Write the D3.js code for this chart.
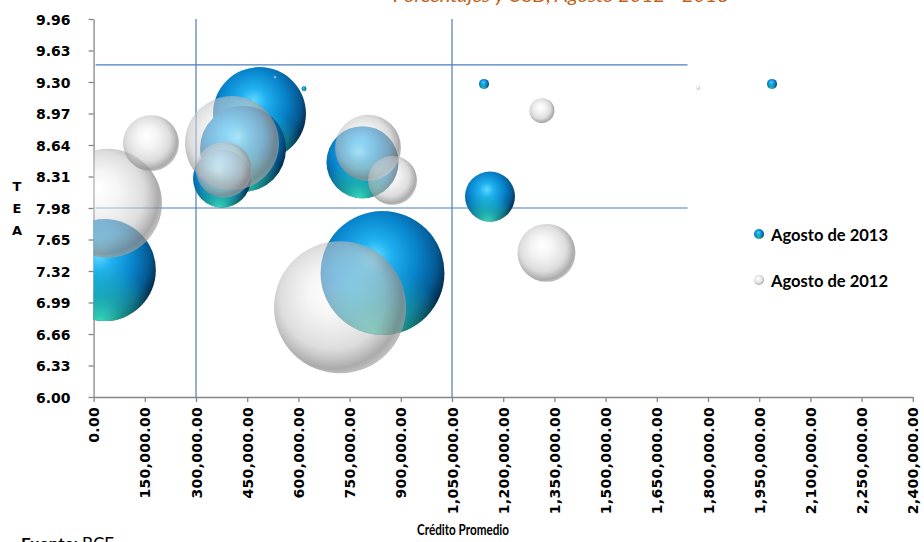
<!DOCTYPE html>
<html><head><meta charset="utf-8">
<script src="https://cdn.jsdelivr.net/npm/d3@7/dist/d3.min.js"></script>
<style>body{margin:0;background:#fff;} svg{display:block}</style>
</head><body>
<svg id="chart" width="924" height="542"></svg>
<script>
// ---- data ----
const yTickValues = [6.00, 6.33, 6.66, 6.99, 7.32, 7.65, 7.98, 8.31, 8.64, 8.97, 9.30, 9.63, 9.96];
const xTickValues = [0, 150000, 300000, 450000, 600000, 750000, 900000, 1050000, 1200000, 1350000, 1500000, 1650000, 1800000, 1950000, 2100000, 2250000, 2400000];

const credit2013 = [33000, 486000, 437700, 376200, 787800, 846400, 1161300, 1143750, 1987500, 616400];
const tea2013    = [7.33, 8.97, 8.60, 8.29, 8.46, 7.30, 8.10, 9.28, 9.28, 9.23];
const size2013   = [26.0, 21.6, 18.5, 8.4, 13.0, 38.4, 6.25, 0.25, 0.25, 0.06];

const credit2012 = [40700, 168200, 405500, 382000, 803900, 875700, 721900, 1313700, 1326900, 1770700, 531400];
const tea2012    = [8.03, 8.66, 8.66, 8.38, 8.61, 8.27, 6.94, 9.00, 7.51, 9.24, 9.35];
const size2012   = [29.7, 7.8, 22.1, 7.8, 10.9, 6.0, 43.6, 1.56, 8.4, 0.04, 0.02];

// reference lines (quadrant dividers)
const vLines = [300000, 1050000];
const hLines = [7.98, 9.48];
const hLineEnd = 1740000;

const seriesNames = ["Agosto de 2013", "Agosto de 2012"];
const titleText = "Porcentajes y USD, Agosto 2012 - 2013";
const xTitle = "Crédito Promedio";
const yTitleLetters = ["T", "E", "A"];

// ---- layout ----
const svg = d3.select("#chart");
const L = 93.6, R = 912.8, T = 19, B = 397;
const x = d3.scaleLinear().domain([0, 2400000]).range([L, R]);
const y = d3.scaleLinear().domain([6, 9.96]).range([B, T]);
const r = d3.scaleSqrt().domain([0, 1]).range([0, 10]);

const defs = svg.append("defs");
// blue sphere
const gb = defs.append("radialGradient").attr("id", "blueBase")
  .attr("cx", 0.42).attr("cy", 0.4).attr("r", 0.64).attr("fx", 0.44).attr("fy", 0.36);
[[0, "#5ed8ff"], [0.22, "#1fb0f0"], [0.55, "#0884cc"], [0.8, "#055a94"], [1, "#021f36"]]
  .forEach(([o, c]) => gb.append("stop").attr("offset", o).attr("stop-color", c));
const gt = defs.append("radialGradient").attr("id", "blueTeal")
  .attr("cx", 0.45).attr("cy", 1.02).attr("r", 0.58);
[[0, "#3ce8c4", 0.95], [0.45, "#28ccb0", 0.55], [1, "#28ccb0", 0]]
  .forEach(([o, c, a]) => gt.append("stop").attr("offset", o).attr("stop-color", c).attr("stop-opacity", a));
// gray sphere
const gg = defs.append("radialGradient").attr("id", "grayBase")
  .attr("cx", 0.45).attr("cy", 0.45).attr("r", 0.58).attr("fx", 0.42).attr("fy", 0.36);
[[0, "#ffffff", 0.5], [0.3, "#ececec", 0.52], [0.68, "#c6c6c6", 0.6], [0.9, "#8e8e8e", 0.75], [1, "#a8a8a8", 0.65]]
  .forEach(([o, c, a]) => gg.append("stop").attr("offset", o).attr("stop-color", c).attr("stop-opacity", a));

defs.append("clipPath").attr("id", "plotClip").append("rect")
  .attr("x", L).attr("y", T).attr("width", R - L).attr("height", B - T);

// title (mostly cut off at top)
svg.append("text").attr("x", 393).attr("y", 2).attr("textLength", 336).attr("lengthAdjust", "spacingAndGlyphs")
  .attr("font-family", "Lato, 'Open Sans', sans-serif").attr("font-style", "italic")
  .attr("font-size", 18).attr("fill", "#c0601a").text(titleText);

// axes
const fmtY = d3.format(".2f");
const fmtX = d3.format(",.2f");
const gy = svg.append("g").attr("transform", `translate(${L},0)`)
  .call(d3.axisLeft(y).tickValues(yTickValues).tickFormat(fmtY).tickSize(5).tickSizeOuter(0));
const gx = svg.append("g").attr("transform", `translate(0,${B})`)
  .call(d3.axisBottom(x).tickValues(xTickValues).tickFormat(fmtX).tickSize(5).tickSizeOuter(0));
[gy, gx].forEach(g => {
  g.select(".domain").attr("stroke", "#868686").attr("stroke-width", 1.3);
  g.selectAll(".tick line").attr("stroke", "#868686").attr("stroke-width", 1.3);
  g.selectAll("text").attr("font-family", "'DejaVu Sans', sans-serif").attr("font-weight", "bold")
    .attr("font-size", 14).attr("fill", "#000");
});
gy.selectAll("text").attr("x", -23).attr("dy", "0.36em");
gx.selectAll("text").attr("transform", "rotate(-90)").attr("text-anchor", "end")
  .attr("letter-spacing", 0.3)
  .attr("x", -10).attr("y", 0).attr("dy", "0.36em");

// reference lines
const lineG = svg.append("g").attr("stroke", "#4a7ebb").attr("stroke-width", 1.2);
lineG.selectAll("line.v").data(vLines).join("line").attr("class", "v")
  .attr("x1", d => x(d)).attr("x2", d => x(d)).attr("y1", y(9.96)).attr("y2", y(6));
lineG.selectAll("line.h").data(hLines).join("line").attr("class", "h")
  .attr("x1", x(0) + 2).attr("x2", x(hLineEnd)).attr("y1", d => y(d)).attr("y2", d => y(d));

// bubbles
const plot = svg.append("g").attr("clip-path", "url(#plotClip)");
const d2013 = credit2013.map((c, i) => ({ c, t: tea2013[i], s: size2013[i] })).sort((a, b) => b.s - a.s);
const d2012 = credit2012.map((c, i) => ({ c, t: tea2012[i], s: size2012[i] })).sort((a, b) => b.s - a.s);

const bl = plot.append("g").selectAll("g").data(d2013).join("g");
bl.append("circle").attr("cx", d => x(d.c)).attr("cy", d => y(d.t)).attr("r", d => r(d.s)).attr("fill", "url(#blueBase)");
bl.append("circle").attr("cx", d => x(d.c)).attr("cy", d => y(d.t)).attr("r", d => r(d.s)).attr("fill", "url(#blueTeal)");

plot.append("g").selectAll("circle").data(d2012).join("circle")
  .attr("cx", d => x(d.c)).attr("cy", d => y(d.t)).attr("r", d => r(d.s)).attr("fill", "url(#grayBase)");

// legend
const leg = svg.append("g");
[0, 1].forEach(i => {
  const ly = 234 + i * 46;
  if (i === 0) {
    leg.append("circle").attr("cx", 759).attr("cy", ly).attr("r", 5).attr("fill", "url(#blueBase)");
    leg.append("circle").attr("cx", 759).attr("cy", ly).attr("r", 5).attr("fill", "url(#blueTeal)");
  } else {
    leg.append("circle").attr("cx", 759).attr("cy", ly).attr("r", 5).attr("fill", "url(#grayBase)");
  }
  leg.append("text").attr("x", 771).attr("y", ly + 6.5).attr("font-family", "Lato, sans-serif")
    .attr("font-weight", "bold").attr("font-size", 17).attr("fill", "#000")
    .attr("textLength", 117).attr("lengthAdjust", "spacingAndGlyphs").text(seriesNames[i]);
});

// axis titles
svg.append("text").attr("x", 463).attr("y", 535).attr("text-anchor", "middle")
  .attr("textLength", 92).attr("lengthAdjust", "spacingAndGlyphs")
  .attr("font-family", "Lato, sans-serif").attr("font-weight", "bold").attr("font-size", 16).text(xTitle);
svg.append("g").selectAll("text").data(yTitleLetters).join("text")
  .attr("x", 17).attr("y", (d, i) => 191 + i * 22).attr("text-anchor", "middle")
  .attr("font-family", "'DejaVu Sans', sans-serif").attr("font-weight", "bold").attr("font-size", 13).text(d => d);

// source note (cut off at bottom)
const src = svg.append("text").attr("x", 21).attr("y", 550).attr("font-family", "Lato, sans-serif").attr("font-size", 17);
src.append("tspan").attr("font-weight", "bold").text("Fuente: ");
src.append("tspan").text(" BCE");
</script>
</body></html>
